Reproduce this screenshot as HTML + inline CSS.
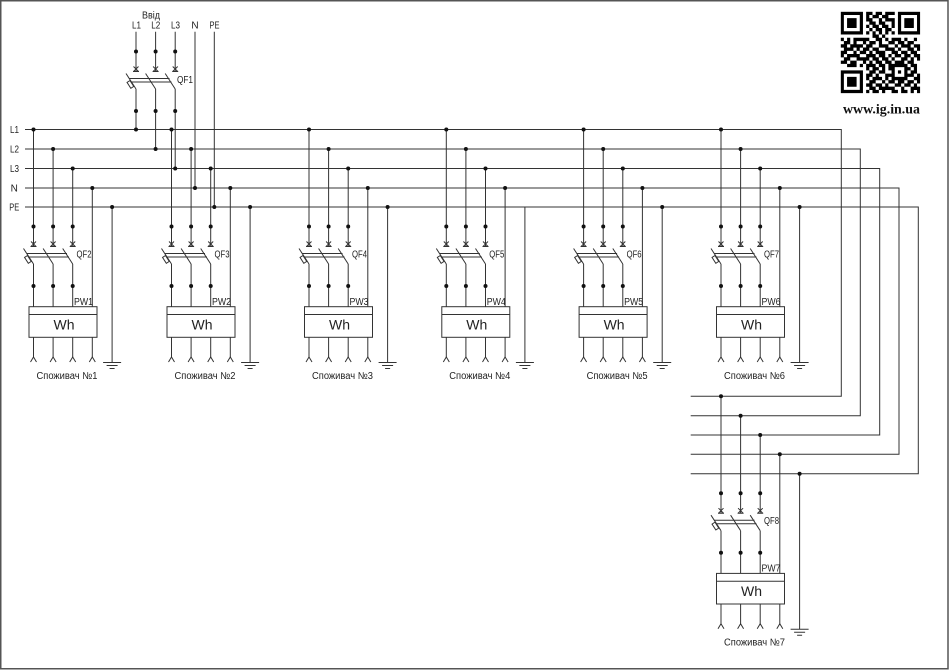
<!DOCTYPE html>
<html><head><meta charset="utf-8"><style>
html,body{margin:0;padding:0;background:#fff;width:949px;height:670px;overflow:hidden}
svg{display:block}
text{font-family:"Liberation Sans","DejaVu Sans",sans-serif;fill:#222}
</style></head><body>
<svg width="949" height="670" viewBox="0 0 949 670" xmlns="http://www.w3.org/2000/svg">
<defs>
<g id="pole"><path d="M-2.5 -3.5L2.5 1.5M-2.5 1.5L2.5 -3.5M-3 1.5H3M-10 3.5L0 19"/></g>
<g id="brk3">
<use href="#pole"/><use href="#pole" x="19.6"/><use href="#pole" x="39.2"/>
<path d="M-6.8 8.5H33.5M-4.5 12H35.5"/>
<rect x="-1.75" y="-3.5" width="3.5" height="7" transform="translate(-5.6 14.4) rotate(-32.8)"/>
</g>
<g id="cb">
<use href="#brk3"/>
<path d="M0 19V61.7M19.6 19V61.7M39.2 19V61.7"/>
<rect x="-4.5" y="61.7" width="68" height="30.6"/>
<path d="M-4.5 69.5H63.5"/>
<path d="M0 92.3V112M19.6 92.3V112M39.2 92.3V112M58.8 92.3V112"/>
<path d="M-3 117L0 112L3 117M16.6 117L19.6 112L22.6 117M36.2 117L39.2 112L42.2 117M55.8 117L58.8 112L61.8 117"/>
<path d="M69.6 117.5H87.6M73.1 120.5H84.1M76.1 123.5H81.1"/>
<g stroke="none" fill="#111">
<circle cx="0" cy="-18.5" r="2"/><circle cx="19.6" cy="-18.5" r="2"/><circle cx="39.2" cy="-18.5" r="2"/>
<circle cx="0" cy="41" r="2"/><circle cx="19.6" cy="41" r="2"/><circle cx="39.2" cy="41" r="2"/>
</g>
</g>
</defs>

<rect x="0.75" y="0.75" width="947.25" height="668" fill="none" stroke="#555" stroke-width="1.5"/>

<g fill="none" stroke="#333" stroke-width="1">
<!-- main buses with return loops -->
<path d="M25 129.5H841.3V396.3H690.7M25 149H860.3V415.7H690.7M25 168.5H879.7V435H690.7M25 188H899V454.3H690.7M25 207H918.3V473.7H690.7"/>
<!-- input -->
<path d="M136 31.7V71.5M155.6 31.7V71.5M175.2 31.7V71.5M195 31.7V188M214.3 31.7V207M136 89V129.5M155.6 89V149M175.2 89V168.5"/>
<use href="#brk3" transform="translate(136 70)"/>
<!-- consumer taps -->
<path d="M33.5 129.5V246.5M53.1 149V246.5M72.7 168.5V246.5M92.3 188V306.7M112.1 207V362.5"/>
<path d="M171.5 129.5V246.5M191.1 149V246.5M210.7 168.5V246.5M230.3 188V306.7M250.1 207V362.5"/>
<path d="M309 129.5V246.5M328.6 149V246.5M348.2 168.5V246.5M367.8 188V306.7M387.6 207V362.5"/>
<path d="M446.3 129.5V246.5M465.9 149V246.5M485.5 168.5V246.5M505.1 188V306.7M524.9 207V362.5"/>
<path d="M583.6 129.5V246.5M603.2 149V246.5M622.8 168.5V246.5M642.4 188V306.7M662.2 207V362.5"/>
<path d="M721 129.5V246.5M740.6 149V246.5M760.2 168.5V246.5M779.8 188V306.7M799.6 207V362.5"/>
<path d="M721 396.3V513.2M740.6 415.7V513.2M760.2 435V513.2M779.8 454.3V573.4M799.6 473.7V629.2"/>
<use href="#cb" transform="translate(33.5 245)"/>
<use href="#cb" transform="translate(171.5 245)"/>
<use href="#cb" transform="translate(309 245)"/>
<use href="#cb" transform="translate(446.3 245)"/>
<use href="#cb" transform="translate(583.6 245)"/>
<use href="#cb" transform="translate(721 245)"/>
<use href="#cb" transform="translate(721 511.7)"/>
</g>

<g fill="#111">
<circle cx="136" cy="51.5" r="2"/><circle cx="155.6" cy="51.5" r="2"/><circle cx="175.2" cy="51.5" r="2"/>
<circle cx="136" cy="111" r="2"/><circle cx="155.6" cy="111" r="2"/><circle cx="175.2" cy="111" r="2"/>
<!-- L1 -->
<circle cx="33.5" cy="129.5" r="2"/><circle cx="136" cy="129.5" r="2"/><circle cx="171.5" cy="129.5" r="2"/><circle cx="309" cy="129.5" r="2"/><circle cx="446.3" cy="129.5" r="2"/><circle cx="583.6" cy="129.5" r="2"/><circle cx="721" cy="129.5" r="2"/>
<!-- L2 -->
<circle cx="53.1" cy="149" r="2"/><circle cx="155.6" cy="149" r="2"/><circle cx="191.1" cy="149" r="2"/><circle cx="328.6" cy="149" r="2"/><circle cx="465.9" cy="149" r="2"/><circle cx="603.2" cy="149" r="2"/><circle cx="740.6" cy="149" r="2"/>
<!-- L3 -->
<circle cx="72.7" cy="168.5" r="2"/><circle cx="175.2" cy="168.5" r="2"/><circle cx="210.7" cy="168.5" r="2"/><circle cx="348.2" cy="168.5" r="2"/><circle cx="485.5" cy="168.5" r="2"/><circle cx="622.8" cy="168.5" r="2"/><circle cx="760.2" cy="168.5" r="2"/>
<!-- N -->
<circle cx="92.3" cy="188" r="2"/><circle cx="195" cy="188" r="2"/><circle cx="230.3" cy="188" r="2"/><circle cx="367.8" cy="188" r="2"/><circle cx="505.1" cy="188" r="2"/><circle cx="642.4" cy="188" r="2"/><circle cx="779.8" cy="188" r="2"/>
<!-- PE -->
<circle cx="112.1" cy="207" r="2"/><circle cx="214.3" cy="207" r="2"/><circle cx="250.1" cy="207" r="2"/><circle cx="387.6" cy="207" r="2"/><circle cx="662.2" cy="207" r="2"/><circle cx="799.6" cy="207" r="2"/>
<!-- lower bus -->
<circle cx="721" cy="396.3" r="2"/><circle cx="740.6" cy="415.7" r="2"/><circle cx="760.2" cy="435" r="2"/><circle cx="779.8" cy="454.3" r="2"/><circle cx="799.6" cy="473.7" r="2"/>
</g>

<!-- labels -->
<g font-size="10">
<text x="151" y="18.5" text-anchor="middle" textLength="18" lengthAdjust="spacingAndGlyphs">Ввід</text>
<text x="136.5" y="28.5" text-anchor="middle" textLength="9" lengthAdjust="spacingAndGlyphs">L1</text>
<text x="155.8" y="28.5" text-anchor="middle" textLength="9" lengthAdjust="spacingAndGlyphs">L2</text>
<text x="175.5" y="28.5" text-anchor="middle" textLength="9" lengthAdjust="spacingAndGlyphs">L3</text>
<text x="195" y="28.5" text-anchor="middle">N</text>
<text x="214.5" y="28.5" text-anchor="middle" textLength="10" lengthAdjust="spacingAndGlyphs">PE</text>
<text x="177" y="83" textLength="16" lengthAdjust="spacingAndGlyphs">QF1</text>

<text x="14.5" y="133" text-anchor="middle" textLength="9" lengthAdjust="spacingAndGlyphs">L1</text>
<text x="14.5" y="152.5" text-anchor="middle" textLength="9" lengthAdjust="spacingAndGlyphs">L2</text>
<text x="14.5" y="172" text-anchor="middle" textLength="9" lengthAdjust="spacingAndGlyphs">L3</text>
<text x="14.2" y="191.5" text-anchor="middle">N</text>
<text x="14.2" y="210.5" text-anchor="middle" textLength="10" lengthAdjust="spacingAndGlyphs">PE</text>

<text x="76.5" y="257.5" textLength="15" lengthAdjust="spacingAndGlyphs">QF2</text>
<text x="214.5" y="257.5" textLength="15" lengthAdjust="spacingAndGlyphs">QF3</text>
<text x="352" y="257.5" textLength="15" lengthAdjust="spacingAndGlyphs">QF4</text>
<text x="489.3" y="257.5" textLength="15" lengthAdjust="spacingAndGlyphs">QF5</text>
<text x="626.6" y="257.5" textLength="15" lengthAdjust="spacingAndGlyphs">QF6</text>
<text x="764" y="257.5" textLength="15" lengthAdjust="spacingAndGlyphs">QF7</text>
<text x="764" y="524.2" textLength="15" lengthAdjust="spacingAndGlyphs">QF8</text>

<text x="74" y="305" textLength="19" lengthAdjust="spacingAndGlyphs">PW1</text>
<text x="212" y="305" textLength="19" lengthAdjust="spacingAndGlyphs">PW2</text>
<text x="349.5" y="305" textLength="19" lengthAdjust="spacingAndGlyphs">PW3</text>
<text x="486.8" y="305" textLength="19" lengthAdjust="spacingAndGlyphs">PW4</text>
<text x="624.1" y="305" textLength="19" lengthAdjust="spacingAndGlyphs">PW5</text>
<text x="761.5" y="305" textLength="19" lengthAdjust="spacingAndGlyphs">PW6</text>
<text x="761.5" y="571.7" textLength="19" lengthAdjust="spacingAndGlyphs">PW7</text>

<text x="67" y="379" text-anchor="middle" textLength="61" lengthAdjust="spacingAndGlyphs">Споживач №1</text>
<text x="205" y="379" text-anchor="middle" textLength="61" lengthAdjust="spacingAndGlyphs">Споживач №2</text>
<text x="342.5" y="379" text-anchor="middle" textLength="61" lengthAdjust="spacingAndGlyphs">Споживач №3</text>
<text x="479.8" y="379" text-anchor="middle" textLength="61" lengthAdjust="spacingAndGlyphs">Споживач №4</text>
<text x="617.1" y="379" text-anchor="middle" textLength="61" lengthAdjust="spacingAndGlyphs">Споживач №5</text>
<text x="754.5" y="379" text-anchor="middle" textLength="61" lengthAdjust="spacingAndGlyphs">Споживач №6</text>
<text x="754.5" y="645.7" text-anchor="middle" textLength="61" lengthAdjust="spacingAndGlyphs">Споживач №7</text>
</g>
<g font-size="14">
<text x="64" y="329.3" text-anchor="middle">Wh</text>
<text x="202" y="329.3" text-anchor="middle">Wh</text>
<text x="339.5" y="329.3" text-anchor="middle">Wh</text>
<text x="476.8" y="329.3" text-anchor="middle">Wh</text>
<text x="614.1" y="329.3" text-anchor="middle">Wh</text>
<text x="751.5" y="329.3" text-anchor="middle">Wh</text>
<text x="751.5" y="596" text-anchor="middle">Wh</text>
</g>

<!-- QR code -->
<svg x="840.7" y="11.7" width="79.5" height="81.5" viewBox="0 0 25 25" preserveAspectRatio="none">
<path stroke="#000" stroke-width="1.02" fill="none" d="
M0 0.5h7M8 0.5h2M11 0.5h2M14 0.5h3M18 0.5h7
M0 1.5h1M6 1.5h1M8 1.5h1M10 1.5h2M13 1.5h2M18 1.5h1M24 1.5h1
M0 2.5h1M2 2.5h3M6 2.5h1M8 2.5h2M12 2.5h1M14 2.5h3M18 2.5h1M20 2.5h3M24 2.5h1
M0 3.5h1M2 3.5h3M6 3.5h1M9 3.5h2M12 3.5h2M16 3.5h1M18 3.5h1M20 3.5h3M24 3.5h1
M0 4.5h1M2 4.5h3M6 4.5h1M8 4.5h1M10 4.5h2M13 4.5h2M16 4.5h1M18 4.5h1M20 4.5h3M24 4.5h1
M0 5.5h1M6 5.5h1M9 5.5h1M11 5.5h2M14 5.5h2M18 5.5h1M24 5.5h1
M0 6.5h7M8 6.5h1M10 6.5h1M12 6.5h1M14 6.5h1M16 6.5h1M18 6.5h7
M10 7.5h2M13 7.5h1
M0 8.5h1M2 8.5h1M4 8.5h5M11 8.5h2M14 8.5h1M16 8.5h3M20 8.5h1M23 8.5h1
M1 9.5h2M4 9.5h1M7 9.5h1M9 9.5h2M12 9.5h1M15 9.5h2M18 9.5h2M21 9.5h2
M0 10.5h2M3 10.5h4M8 10.5h2M12 10.5h3M17 10.5h1M19 10.5h3M23 10.5h2
M1 11.5h3M5 11.5h1M7 11.5h2M10 11.5h2M14 11.5h3M18 11.5h1M21 11.5h2M24 11.5h1
M0 12.5h2M4 12.5h1M6 12.5h2M9 12.5h1M11 12.5h3M16 12.5h2M19 12.5h2M22 12.5h2
M0 13.5h1M2 13.5h4M8 13.5h3M12 13.5h2M15 13.5h1M17 13.5h2M20 13.5h2M23 13.5h2
M1 14.5h2M5 14.5h4M10 14.5h2M13 14.5h2M16 14.5h1M19 14.5h2M22 14.5h1M24 14.5h1
M0 15.5h2M3 15.5h2M7 15.5h1M9 15.5h1M11 15.5h2M14 15.5h2M17 15.5h3M21 15.5h2
M2 16.5h3M6 16.5h1M8 16.5h3M12 16.5h2M15 16.5h6M22 16.5h2
M8 17.5h1M10 17.5h2M13 17.5h1M15 17.5h2M20 17.5h2M23 17.5h1
M0 18.5h7M9 18.5h2M12 18.5h2M16 18.5h1M18 18.5h1M20 18.5h1M22 18.5h2
M0 19.5h1M6 19.5h1M8 19.5h2M11 19.5h1M14 19.5h3M20 19.5h3M24 19.5h1
M0 20.5h1M2 20.5h3M6 20.5h1M8 20.5h1M10 20.5h3M14 20.5h1M16 20.5h5M23 20.5h2
M0 21.5h1M2 21.5h3M6 21.5h1M9 21.5h2M13 21.5h1M15 21.5h2M18 21.5h2M21 21.5h2M24 21.5h1
M0 22.5h1M2 22.5h3M6 22.5h1M8 22.5h2M11 22.5h2M14 22.5h1M17 22.5h2M20 22.5h2M23 22.5h1
M0 23.5h1M6 23.5h1M9 23.5h2M12 23.5h5M19 23.5h1M22 23.5h3
M0 24.5h7M8 24.5h1M10 24.5h2M13 24.5h1M16 24.5h2M19 24.5h2M22 24.5h1M24 24.5h1"/>
</svg>
<text x="843" y="113.5" font-family="Liberation Serif, serif" font-weight="bold" font-size="14" textLength="77" lengthAdjust="spacingAndGlyphs" style="font-family:'Liberation Serif',serif;fill:#111">www.ig.in.ua</text>
</svg>
</body></html>
